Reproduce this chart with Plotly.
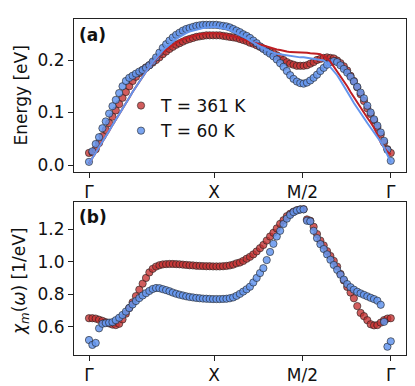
import numpy as np
import plotly.graph_objects as go

# path coordinate (Gamma - X - M/2 - Gamma), uniform sampling
path_len = 1.0 + 2 * np.sqrt(0.5)
k = np.linspace(0.0, path_len, 91)
tick_vals = [0.0, 1.0, 1.0 + np.sqrt(0.5), path_len]
tick_text = ["Γ", "X", "M/2", "Γ"]

# (a) peak energies (markers)
E_361 = [0.023,0.024,0.030,0.042,0.055,0.067,0.080,0.092,0.104,0.116,
         0.128,0.139,0.150,0.160,0.168,0.175,0.181,0.186,0.190,0.195,
         0.200,0.205,0.211,0.216,0.221,0.225,0.229,0.232,0.235,0.238,
         0.240,0.242,0.244,0.245,0.246,0.247,0.247,0.247,0.247,0.247,
         0.246,0.245,0.244,0.243,0.242,0.240,0.238,0.236,0.233,0.231,
         0.228,0.225,0.222,0.219,0.216,0.213,0.209,0.205,0.200,0.196,
         0.193,0.191,0.189,0.189,0.189,0.190,0.193,0.196,0.200,0.202,
         0.204,0.205,0.204,0.203,0.199,0.194,0.188,0.180,0.170,0.160,
         0.148,0.135,0.122,0.108,0.097,0.085,0.072,0.058,0.043,0.030,
         0.023]
E_60 = [0.006,0.026,0.040,0.053,0.070,0.083,0.098,0.112,0.124,0.137,
        0.150,0.160,0.166,0.170,0.174,0.178,0.181,0.185,0.190,0.197,
        0.205,0.214,0.223,0.230,0.237,0.243,0.248,0.252,0.256,0.259,
        0.261,0.263,0.265,0.266,0.267,0.267,0.267,0.267,0.267,0.266,
        0.265,0.264,0.262,0.259,0.256,0.253,0.249,0.246,0.242,0.237,
        0.232,0.226,0.221,0.216,0.212,0.207,0.201,0.194,0.187,0.179,
        0.171,0.164,0.159,0.156,0.155,0.157,0.161,0.166,0.172,0.179,
        0.185,0.191,0.196,0.198,0.196,0.190,0.183,0.176,0.168,0.159,
        0.149,0.138,0.127,0.113,0.100,0.087,0.075,0.062,0.046,0.029,
        0.008]
# (a) dispersion lines
L_361 = [0.003,0.013,0.023,0.034,0.044,0.055,0.065,0.076,0.086,0.097,
         0.107,0.118,0.128,0.139,0.149,0.159,0.169,0.178,0.187,0.195,
         0.203,0.209,0.215,0.220,0.225,0.229,0.233,0.237,0.240,0.242,
         0.244,0.246,0.248,0.249,0.250,0.251,0.251,0.251,0.251,0.250,
         0.249,0.248,0.247,0.245,0.243,0.241,0.239,0.237,0.235,0.233,
         0.231,0.229,0.227,0.225,0.223,0.221,0.220,0.219,0.217,0.216,
         0.215,0.215,0.215,0.214,0.214,0.214,0.213,0.213,0.212,0.211,
         0.207,0.203,0.197,0.188,0.178,0.169,0.160,0.150,0.139,0.129,
         0.119,0.108,0.098,0.090,0.081,0.071,0.058,0.043,0.033,0.025,
         0.020]
L_60 = [0.003,0.013,0.023,0.034,0.044,0.055,0.065,0.076,0.086,0.097,
        0.107,0.118,0.128,0.139,0.149,0.159,0.169,0.178,0.187,0.196,
        0.204,0.211,0.218,0.224,0.230,0.235,0.240,0.244,0.248,0.251,
        0.254,0.256,0.258,0.260,0.261,0.262,0.263,0.263,0.263,0.262,
        0.261,0.259,0.257,0.254,0.251,0.248,0.245,0.241,0.237,0.233,
        0.229,0.225,0.222,0.219,0.216,0.214,0.212,0.211,0.209,0.208,
        0.207,0.206,0.206,0.205,0.205,0.204,0.204,0.203,0.202,0.201,
        0.199,0.194,0.187,0.180,0.171,0.161,0.151,0.140,0.129,0.118,
        0.108,0.098,0.089,0.080,0.071,0.062,0.054,0.044,0.033,0.020,
        0.005]
# (b) chi_m(omega)
chi_361 = [0.652,0.652,0.650,0.643,0.636,0.628,0.620,0.613,0.610,0.618,
           0.645,0.680,0.715,0.750,0.788,0.828,0.865,0.900,0.934,0.956,
           0.970,0.978,0.983,0.985,0.986,0.986,0.985,0.984,0.982,0.980,
           0.978,0.977,0.975,0.974,0.973,0.972,0.972,0.971,0.971,0.971,
           0.972,0.974,0.977,0.982,0.990,0.995,1.005,1.018,1.030,1.045,
           1.063,1.083,1.103,1.130,1.155,1.178,1.205,1.233,1.255,1.280,
           1.295,1.308,1.317,1.322,1.323,1.260,1.252,1.215,1.170,1.130,
           1.100,1.065,1.035,1.005,0.970,0.925,0.885,0.845,0.810,0.775,
           0.727,0.685,0.665,0.640,0.615,0.608,0.610,0.625,0.641,0.650,
           0.652]
chi_60 = [0.518,0.488,0.500,0.590,0.618,0.622,0.625,0.628,0.640,0.655,
          0.672,0.693,0.715,0.737,0.758,0.776,0.792,0.806,0.820,0.832,
          0.838,0.837,0.831,0.825,0.818,0.810,0.803,0.797,0.792,0.787,
          0.783,0.780,0.777,0.775,0.773,0.772,0.771,0.770,0.770,0.770,
          0.771,0.772,0.775,0.780,0.790,0.802,0.816,0.830,0.846,0.872,
          0.900,0.930,0.960,1.010,1.060,1.110,1.155,1.190,1.232,1.265,
          1.288,1.305,1.315,1.321,1.322,1.252,1.248,1.190,1.145,1.108,
          1.078,1.045,1.012,0.980,0.950,0.920,0.890,0.862,0.843,0.828,
          0.815,0.805,0.796,0.787,0.778,0.770,0.760,0.735,0.630,0.477,
          0.510]

RED_FILL = "rgba(196,48,48,0.78)"
BLUE_FILL = "rgba(100,149,237,0.85)"
EDGE = "rgba(30,30,30,0.75)"
RED_LINE = "rgb(190,30,35)"
BLUE_LINE = "rgb(100,149,237)"
FONT = "DejaVu Sans"
FS = 17

W, H = 415, 386
fig = go.Figure()

def mk(fill, name, show, y, xa, ya):
    return go.Scatter(x=k, y=y, mode="markers", name=name, showlegend=show,
                      marker=dict(size=7.3, color=fill, line=dict(color=EDGE, width=0.8)),
                      xaxis=xa, yaxis=ya)

fig.add_trace(mk(RED_FILL, "T = 361 K", True, E_361, "x", "y"))
fig.add_trace(mk(BLUE_FILL, "T = 60 K", True, E_60, "x", "y"))
fig.add_trace(go.Scatter(x=k, y=L_361, mode="lines", showlegend=False,
                         line=dict(color=RED_LINE, width=2), xaxis="x", yaxis="y"))
fig.add_trace(go.Scatter(x=k, y=L_60, mode="lines", showlegend=False,
                         line=dict(color=BLUE_LINE, width=2), xaxis="x", yaxis="y"))
fig.add_trace(mk(RED_FILL, "T = 361 K", False, chi_361, "x2", "y2"))
fig.add_trace(mk(BLUE_FILL, "T = 60 K", False, chi_60, "x2", "y2"))

xr = [(74 - 89) / 125.0, (406.3 - 89) / 125.0]
axis_common = dict(showgrid=False, zeroline=False, showline=True, linecolor="#222",
                   linewidth=1, mirror=True, ticks="outside", ticklen=5, tickwidth=1,
                   tickcolor="#222", tickfont=dict(family=FONT, size=FS, color="#111"))
xdom = [74 / W, 406.3 / W]
fig.update_layout(
    width=W, height=H, margin=dict(l=0, r=0, t=0, b=0, autoexpand=False),
    paper_bgcolor="white", plot_bgcolor="white",
    xaxis=dict(domain=xdom, range=xr, tickvals=tick_vals, ticktext=tick_text,
               anchor="y", **axis_common),
    yaxis=dict(domain=[1 - 172 / H, 1 - 19.3 / H], range=[-0.0133, 0.2775],
               tickvals=[0.0, 0.1, 0.2], tickformat=".1f", anchor="x", **axis_common),
    xaxis2=dict(domain=xdom, range=xr, tickvals=tick_vals, ticktext=tick_text,
                anchor="y2", **axis_common),
    yaxis2=dict(domain=[1 - 355 / H, 1 - 202.3 / H], range=[0.4258, 1.3655],
                tickvals=[0.6, 0.8, 1.0, 1.2], tickformat=".1f", anchor="x2", **axis_common),
    legend=dict(x=121 / W, y=1 - 88 / H, xanchor="left", yanchor="top",
                bgcolor="rgba(0,0,0,0)", font=dict(family=FONT, size=FS, color="#111"),
                tracegroupgap=0),
    showlegend=True,
)
ann = dict(xref="paper", yref="paper", showarrow=False, font=dict(family=FONT, size=FS, color="#111"))
fig.add_annotation(text="<b>(a)</b>", x=77 / W, y=1 - 35 / H, xanchor="left", yanchor="middle", **ann)
fig.add_annotation(text="<b>(b)</b>", x=77 / W, y=1 - 217 / H, xanchor="left", yanchor="middle", **ann)
fig.add_annotation(text="Energy [eV]", x=20 / W, y=1 - 95.5 / H, textangle=-90,
                   xanchor="center", yanchor="middle", **ann)
fig.add_annotation(text="<i>χ</i><sub><i>m</i></sub>(<i>ω</i>) [1/eV]", x=20 / W, y=1 - 282 / H,
                   textangle=-90, xanchor="center", yanchor="middle", **ann)

fig.write_html("out.html", config={"displayModeBar": False},
               post_script="document.body.style.margin='0';document.body.style.padding='0';")
